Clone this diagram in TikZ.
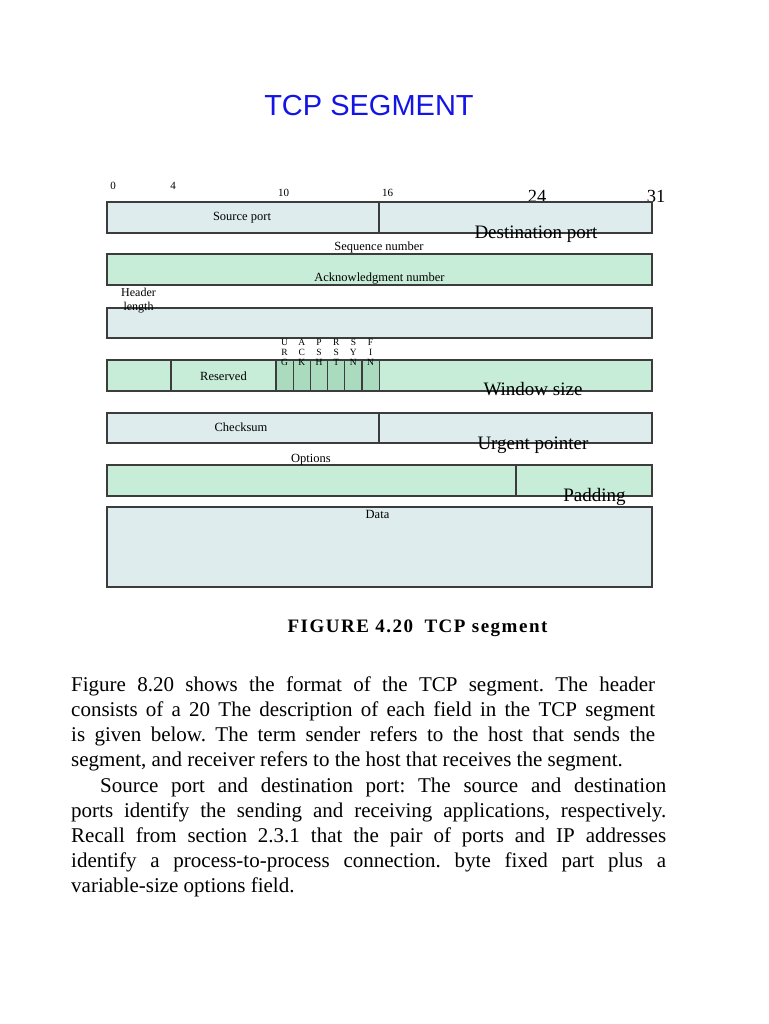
\documentclass[tikz,border=0pt]{standalone}
\usepackage{fontspec}
\setmainfont{Liberation Serif}
\newfontfamily\titlefont{Liberation Sans}
\usepackage{tikz}
\definecolor{cellblue}{RGB}{222,236,237}
\definecolor{cellgreen}{RGB}{199,236,216}
\definecolor{flaggreen}{RGB}{170,219,191}
\definecolor{edgegray}{RGB}{60,60,60}
\definecolor{titleblue}{RGB}{20,20,230}
\frenchspacing

\begin{document}
\begin{tikzpicture}[
    x=1pt, y=-1pt,
    every node/.style={inner sep=0pt},
    field/.style={draw=edgegray, line width=1.1pt},
    bluefield/.style={field, fill=cellblue},
    greenfield/.style={field, fill=cellgreen},
    flagcell/.style={field, fill=flaggreen},
    lbl/.style={anchor=base, font=\fontsize{12.5}{13}\selectfont},
    biglbl/.style={anchor=base, font=\fontsize{19}{20}\selectfont},
    bitnum/.style={anchor=base, font=\fontsize{11}{12}\selectfont},
    bigbit/.style={anchor=base, font=\fontsize{18.5}{19}\selectfont},
    flagtxt/.style={anchor=north, align=center, font=\fontsize{9.5}{10}\selectfont},
    bodytext/.style={anchor=base west, align=justify, font=\fontsize{21}{25}\selectfont}
]
\fill[white] (0,0) rectangle (768,1024);
\path[use as bounding box] (0,0) rectangle (768,1024);

% title and bit numbers
\node[anchor=base, text=titleblue, font=\titlefont\fontsize{29}{32}\selectfont] (title) at (369,115.5) {TCP SEGMENT};
\node[bitnum] (bit0) at (113,190) {0};
\node[bitnum] (bit4) at (173,190) {4};
\node[bitnum] (bit10) at (283.5,197) {10};
\node[bitnum] (bit16) at (387.5,197) {16};
\node[bigbit] (bit24) at (537,203) {24};
\node[bigbit] (bit31) at (656,203) {31};

% header rows
\draw[bluefield] (107,202) rectangle (379,233);
\draw[bluefield] (379,202) rectangle (652,233);
\draw[greenfield] (107,254) rectangle (652,285);
\draw[bluefield] (107,308) rectangle (652,338);
\draw[greenfield] (107,360) rectangle (171,391);
\draw[greenfield] (171,360) rectangle (276,391);
\draw[greenfield] (379.2,360) rectangle (652,391);
\foreach \a/\b/\c [count=\i from 0] in {U/R/G, A/C/K, P/S/H, R/S/T, S/Y/N, F/I/N} {
  \draw[flagcell] (276+17.2*\i,360) rectangle (293.2+17.2*\i,391);
  \node[flagtxt] (flag\i) at (284.6+17.2*\i,339) {\a\\\b\\\c};
}
\draw[bluefield] (107,413) rectangle (379,443);
\draw[bluefield] (379,413) rectangle (652,443);
\draw[greenfield] (107,465) rectangle (516,496);
\draw[greenfield] (516,465) rectangle (652,496);
\draw[bluefield] (107,507) rectangle (652,587);

% field names
\node[lbl] (srcport) at (242,220.5) {Source port};
\node[biglbl] (dstport) at (536,239) {Destination port};
\node[lbl] (seqno) at (379,251) {Sequence number};
\node[lbl] (ackno) at (379.5,281.5) {Acknowledgment number};
\node[anchor=north, align=center, font=\fontsize{12}{13.5}\selectfont] (hlen) at (138.5,288) {Header\\length};
\node[lbl] (reserved) at (223.5,380) {Reserved};
\node[biglbl] (window) at (533,395) {Window size};
\node[lbl] (checksum) at (241,431.5) {Checksum};
\node[biglbl] (urgent) at (533,449.5) {Urgent pointer};
\node[lbl] (options) at (311,462.5) {Options};
\node[biglbl] (padding) at (594.5,501.5) {Padding};
\node[lbl] (data) at (377.5,518) {Data};

% caption and text
\node[anchor=base, font=\fontsize{19}{20}\selectfont\bfseries\addfontfeature{LetterSpace=8}] (caption) at (417.5,632) {FIGURE 4.20\hspace{0.6em}TCP segment};
\node[bodytext, text width=584pt] (para1) at (71,691) {Figure 8.20 shows the format of the TCP segment. The header\linebreak
consists of a 20 The description of each field in the TCP segment\linebreak
is given below. The term sender refers to the host that sends the\linebreak
segment, and receiver refers to the host that receives the segment.};
\node[bodytext, text width=595pt] (para2) at (71,792) {\hspace*{29pt}Source port and destination port: The source and destination\linebreak
ports identify the sending and receiving applications, respectively.\linebreak
Recall from section 2.3.1 that the pair of ports and IP addresses\linebreak
identify a process-to-process connection. byte fixed part plus a\linebreak
variable-size options field.};
\end{tikzpicture}
\end{document}
